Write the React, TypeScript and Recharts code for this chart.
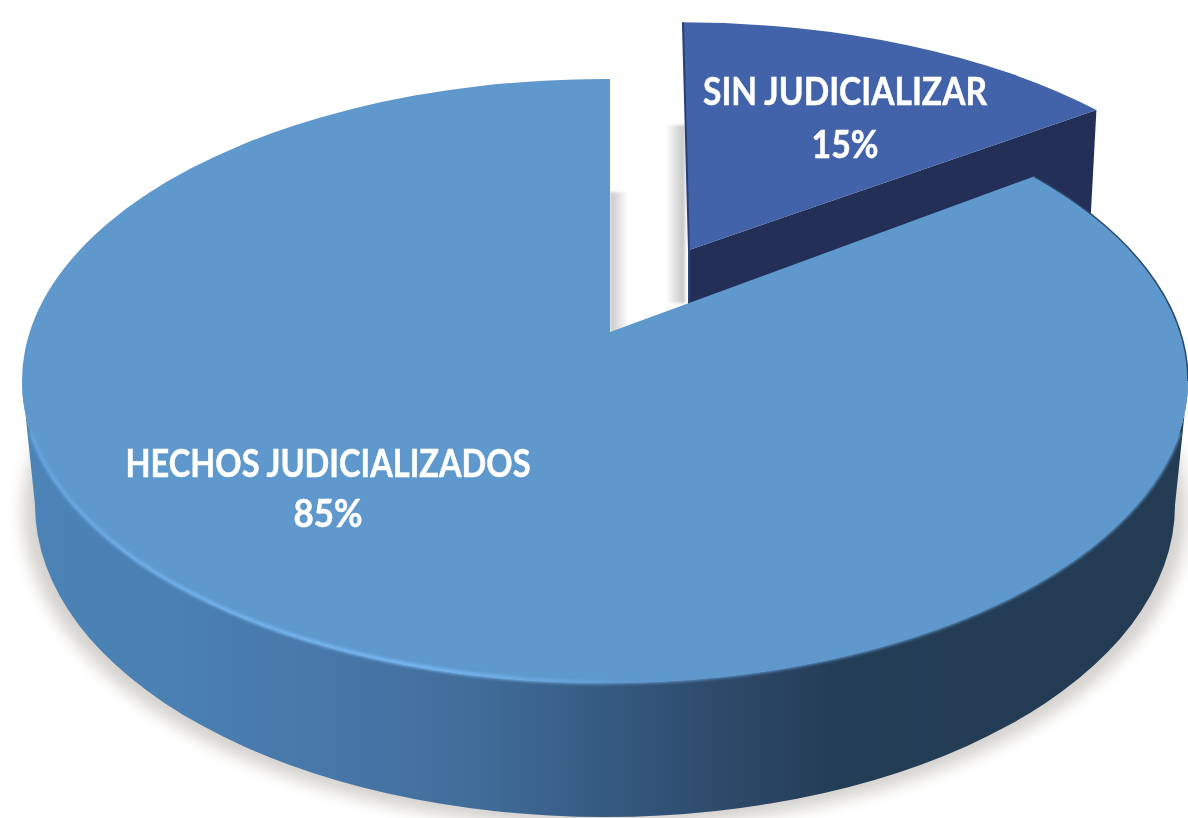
import React from 'react';
import { PieChart, Pie, Cell } from 'recharts';

const categories = ['SIN JUDICIALIZAR', 'HECHOS JUDICIALIZADOS'];
const shares = [15, 85];
const faceColors = ['#4263a9', '#5e98cd'];

const sideStops = [
  { at: '0%', color: '#4c84b8' },
  { at: '13%', color: '#4a80b2' },
  { at: '27%', color: '#4777a8' },
  { at: '40%', color: '#406b98' },
  { at: '50%', color: '#355a80' },
  { at: '60%', color: '#2d4a6a' },
  { at: '70%', color: '#243d56' },
  { at: '100%', color: '#233b53' },
];

const chartData = categories.map((name, i) => ({ name, value: shares[i] }));

// perspective of the disc: the apex sits above the centre of the ellipse
const APEX = { x: 610, y: 332 };
const TOP = { cx: 605, cy: 381, rx: 583, ry: 302 };
const BOTTOM = { cx: 605, cy: 505, rx: 570, ry: 312 };
const TILT = { k: 0.164, a: 580, b: 293 };
// pulled-out slice is the same disc, moved and shrunk a little
const PULLED = { x: 689, y: 250, sx: 0.97, sy: 0.9, skew: 0.024 };
const LABEL_POS = [
  { x: 845, y: 105, dy: 53, size: 38, nameWidth: 284, pctWidth: 67 },
  { x: 328, y: 477, dy: 50, size: 38, nameWidth: 405, pctWidth: 69 },
];

const rimPoint = (deg: number) => {
  const rad = (deg * Math.PI) / 180;
  const w = 1 + TILT.k * Math.sin(rad);
  const dx = (TILT.a * Math.cos(rad)) / w;
  const dy = (-TILT.b * Math.sin(rad)) / w;
  // ray from the apex to the top ellipse
  const ox = (APEX.x - TOP.cx) / TOP.rx;
  const oy = (APEX.y - TOP.cy) / TOP.ry;
  const vx = dx / TOP.rx;
  const vy = dy / TOP.ry;
  const qa = vx * vx + vy * vy;
  const qb = 2 * (ox * vx + oy * vy);
  const qc = ox * ox + oy * oy - 1;
  const t = (-qb + Math.sqrt(qb * qb - 4 * qa * qc)) / (2 * qa);
  return { x: APEX.x + dx * t, y: APEX.y + dy * t };
};

const SliceShape = (props: any) => {
  const { startAngle, endAngle, fill, index } = props;
  const span = Math.abs(endAngle - startAngle);
  const large = span > 180 ? 1 : 0;
  const a = rimPoint(startAngle);
  const b = rimPoint(endAngle);

  if (index === 0) {
    const move = (p: { x: number; y: number }) => ({
      x: PULLED.x + PULLED.sx * (p.x - APEX.x) + PULLED.skew * (p.y - APEX.y),
      y: PULLED.y + PULLED.sy * (p.y - APEX.y),
    });
    const s = move(a);
    const e = move(b);
    const rx = TOP.rx * PULLED.sx;
    const ry = TOP.ry * PULLED.sy;
    return (
      <g>
        <rect x={666} y={125} width={19} height={178} fill="url(#gapShadowB)" filter="url(#gapBlur)" />
        <rect x={610} y={192} width={18} height={140} fill="url(#gapShadowA)" filter="url(#gapBlur)" />
        <path
          d={`M${PULLED.x} ${PULLED.y} L${e.x} ${e.y} L${e.x - 7} ${e.y + 130} L${PULLED.x} ${PULLED.y + 130} Z`}
          fill="#232f57"
        />
        <path
          d={`M${PULLED.x} ${PULLED.y} L${s.x} ${s.y} A${rx} ${ry} 0 ${large} 1 ${e.x} ${e.y} Z`}
          fill={fill}
        />
        <path d={`M${s.x} ${s.y} L${PULLED.x} ${PULLED.y} L${PULLED.x} ${PULLED.y + 60}`} fill="none" stroke="#2a3f78" strokeWidth={2} />
      </g>
    );
  }

  const right = { x: TOP.cx + TOP.rx, y: TOP.cy };
  const left = { x: TOP.cx - TOP.rx, y: TOP.cy };
  // front rim starts a little below the left end so the light stays on the disc
  const rimStart = { x: TOP.cx - TOP.rx * 0.985, y: TOP.cy + TOP.ry * 0.17 };
  const rimEnd = { x: TOP.cx + TOP.rx * 0.985, y: TOP.cy + TOP.ry * 0.17 };
  return (
    <g>
      <ellipse
        cx={BOTTOM.cx}
        cy={BOTTOM.cy + 7}
        rx={BOTTOM.rx + 12}
        ry={BOTTOM.ry + 3}
        fill="#d4d1cd"
        filter="url(#softShadow)"
        clipPath="url(#lowerHalf)"
      />
      <path
        d={`M${left.x} ${left.y} L${BOTTOM.cx - BOTTOM.rx} ${BOTTOM.cy}
            A${BOTTOM.rx} ${BOTTOM.ry} 0 0 0 ${BOTTOM.cx + BOTTOM.rx} ${BOTTOM.cy}
            L${right.x} ${right.y} A${TOP.rx} ${TOP.ry} 0 0 1 ${left.x} ${left.y} Z`}
        fill="url(#sideFade)"
      />
      <path
        d={`M${APEX.x} ${APEX.y} L${a.x} ${a.y} A${TOP.rx} ${TOP.ry} 0 ${large} 1 ${b.x} ${b.y} Z`}
        fill={fill}
      />
      <path
        d={`M${rimEnd.x} ${rimEnd.y} A${TOP.rx} ${TOP.ry} 0 0 1 ${rimStart.x} ${rimStart.y}`}
        fill="none"
        stroke="url(#rimLight)"
        strokeWidth={4}
        filter="url(#rimBlur)"
      />
      <path
        d={`M${a.x} ${a.y} A${TOP.rx} ${TOP.ry} 0 0 1 ${right.x} ${right.y}`}
        fill="none"
        stroke="#2b4a6c"
        strokeWidth={1.5}
      />
    </g>
  );
};

const SliceLabel = (props: any) => {
  const { index, name, percent } = props;
  const pos = LABEL_POS[index];
  const textStyle = {
    textAnchor: 'middle' as const,
    fill: '#ffffff',
    stroke: '#ffffff',
    strokeWidth: 0.5,
    fontFamily: "Lato, 'Open Sans', sans-serif",
    fontWeight: 700,
    fontSize: pos.size,
    lengthAdjust: 'spacingAndGlyphs' as const,
  };
  return (
    <g>
      <text x={pos.x} y={pos.y} textLength={pos.nameWidth} {...textStyle}>
        {name}
      </text>
      <text x={pos.x} y={pos.y + pos.dy} textLength={pos.pctWidth} {...textStyle}>
        {`${Math.round(percent * 100)}%`}
      </text>
    </g>
  );
};

export default function App() {
  return (
    <div style={{ position: 'absolute', left: 0, top: 0, width: 1188, height: 818, overflow: 'hidden', background: '#fff' }}>
      <div style={{ filter: 'blur(0.6px)' }}>
        <PieChart width={1188} height={818} margin={{ top: 0, right: 0, bottom: 0, left: 0 }}>
          <defs>
            <linearGradient id="sideFade" x1="0" y1="0" x2="1" y2="0">
              {sideStops.map((s) => (
                <stop key={s.at} offset={s.at} stopColor={s.color} />
              ))}
            </linearGradient>
            <linearGradient id="rimLight" gradientUnits="userSpaceOnUse" x1="22" y1="0" x2="1188" y2="0">
              <stop offset="0%" stopColor="#64a3dc" />
              <stop offset="10%" stopColor="#6fb0ea" />
              <stop offset="36%" stopColor="#78b9f5" />
              <stop offset="52%" stopColor="#5e98cd" />
              <stop offset="100%" stopColor="#5e98cd" />
            </linearGradient>
            <linearGradient id="gapShadowA" x1="0" y1="0" x2="1" y2="0">
              <stop offset="0%" stopColor="#c6c6c6" />
              <stop offset="100%" stopColor="#ffffff" />
            </linearGradient>
            <linearGradient id="gapShadowB" x1="0" y1="0" x2="1" y2="0">
              <stop offset="0%" stopColor="#ffffff" />
              <stop offset="100%" stopColor="#c2c2c2" />
            </linearGradient>
            <filter id="softShadow" x="-10%" y="-10%" width="120%" height="120%">
              <feGaussianBlur stdDeviation="8" />
            </filter>
            <filter id="rimBlur" x="-5%" y="-5%" width="110%" height="110%">
              <feGaussianBlur stdDeviation="1.5" />
            </filter>
            <filter id="gapBlur" x="-30%" y="-10%" width="160%" height="120%">
              <feGaussianBlur stdDeviation="1.5" />
            </filter>
            <clipPath id="lowerHalf">
              <rect x={0} y={430} width={1188} height={388} />
            </clipPath>
          </defs>
          <Pie
            data={chartData}
            dataKey="value"
            nameKey="name"
            cx={APEX.x}
            cy={APEX.y}
            outerRadius={250}
            startAngle={90}
            endAngle={-270}
            stroke="none"
            shape={SliceShape}
            label={SliceLabel}
            labelLine={false}
            isAnimationActive={false}
          >
            {chartData.map((d, i) => (
              <Cell key={d.name} fill={faceColors[i]} />
            ))}
          </Pie>
        </PieChart>
      </div>
    </div>
  );
}
